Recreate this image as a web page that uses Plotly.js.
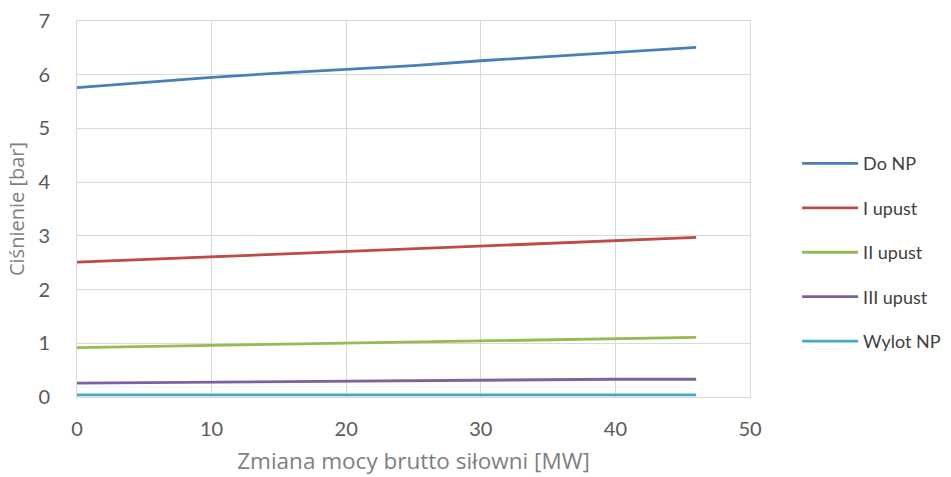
<!DOCTYPE html>
<html>
<head>
<meta charset="utf-8">
<script src="https://cdn.plot.ly/plotly-3.0.1.min.js"></script>
<style>html,body{margin:0;padding:0;background:#fff;}#chart{width:951px;height:477px;}</style>
</head>
<body>
<div id="chart"></div>
<script>
// Gross plant power change [MW]
const moc = [0, 5, 10, 15, 20, 25, 30, 35, 40, 46];

// Pressures [bar] for each extraction point
const doNP     = [5.76, 5.86, 5.95, 6.03, 6.10, 6.17, 6.26, 6.34, 6.42, 6.51];
const upustI   = [2.51, 2.56, 2.61, 2.66, 2.71, 2.76, 2.82, 2.87, 2.92, 2.97];
const upustII  = [0.92, 0.94, 0.96, 0.98, 1.00, 1.02, 1.05, 1.07, 1.09, 1.11];
const upustIII = [0.26, 0.27, 0.28, 0.29, 0.30, 0.31, 0.32, 0.32, 0.33, 0.33];
const wylotNP  = [0.04, 0.04, 0.04, 0.04, 0.04, 0.04, 0.04, 0.04, 0.04, 0.04];

const names  = ['Do NP', 'I upust', 'II upust', 'III upust', 'Wylot NP'];
const colors = ['#4a7ebb', '#be4b48', '#98b954', '#7d60a0', '#46aac5'];
const series = [doNP, upustI, upustII, upustIII, wylotNP];

const traces = series.map((ys, i) => ({
  x: moc, y: ys, name: names[i], type: 'scatter', mode: 'lines',
  legendgroup: 'g' + i,
  line: {color: colors[i], width: 2.8}
}));

const layout = {
  width: 951, height: 477,
  paper_bgcolor: '#ffffff', plot_bgcolor: '#ffffff',
  margin: {l: 77, r: 201, t: 21, b: 80, autoexpand: false},
  font: {family: 'Lato, "Open Sans", sans-serif', color: '#595959', size: 15},
  xaxis: {
    range: [0, 50], dtick: 10, tick0: 0,
    showgrid: true, gridcolor: '#d9d9d9', gridwidth: 1,
    zeroline: false, showline: true, linecolor: '#d9d9d9', mirror: true,
    ticks: '', ticklabelstandoff: 14,
    tickfont: {size: 20, color: '#595959'},
    title: {text: 'Zmiana mocy brutto siłowni [MW]', font: {family: '"Open Sans", sans-serif', size: 22.5, color: '#7f7f7f'}, standoff: 14}
  },
  yaxis: {
    range: [0, 7], dtick: 1, tick0: 0,
    showgrid: true, gridcolor: '#d9d9d9', gridwidth: 1,
    zeroline: false, showline: true, linecolor: '#d9d9d9', mirror: true,
    ticks: '', ticklabelstandoff: 22,
    tickfont: {size: 20, color: '#595959'},
    title: {text: 'Ciśnienie [bar]', font: {family: '"Open Sans", sans-serif', size: 20, color: '#7f7f7f'}, standoff: 8}
  },
  showlegend: true,
  legend: {
    x: 1.07, xanchor: 'left', y: 0.385, yanchor: 'middle',
    tracegroupgap: 18, itemwidth: 56,
    font: {size: 18, color: '#404040'},
    bgcolor: 'rgba(0,0,0,0)'
  }
};

Plotly.newPlot('chart', traces, layout, {displayModeBar: false, staticPlot: true});
</script>
</body>
</html>
